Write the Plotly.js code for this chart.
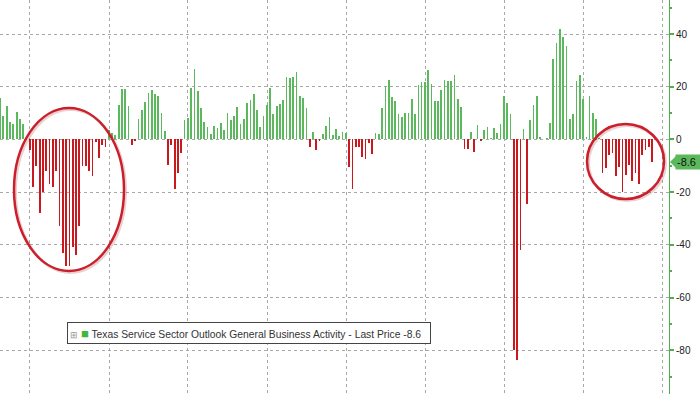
<!DOCTYPE html>
<html>
<head>
<meta charset="utf-8">
<script src="https://cdn.plot.ly/plotly-3.0.1.min.js"></script>
<style>html,body{margin:0;padding:0;background:#fff;}#chart{width:700px;height:394px;}</style>
</head>
<body>
<div id="chart"></div>
<script>
// Monthly values (Texas Service Sector Outlook, General Business Activity)
const startYear = 2007, startMonth = 3; // first bar: March 2007
const v2007 = [15.6, 8.9, 12.7, 6.5, 5.8, 10.3, 7.9, 5.8, 0.4, -4.2];
const v2008 = [-18, -10, -28, -20, -12, -17, -18, -12, -33, -43, -48, -48];
const v2009 = [-41, -44, -33, -10, -10, -12, -14, -1, -7, -2, -3, 3.6];
const v2010 = [2.6, 1.7, 13, 19, 19, 12.5, -2, -0.5, 7.6, 11, 14.3, 17.8];
const v2011 = [18.9, 17.3, 16.5, 10, 3.3, -9.8, -2, -19, -12.8, -5, 7.4, 8];
const v2012 = [19.4, 26.8, 18.4, 11.8, 6.5, 4.9, 2.1, 5.2, 4.4, 6.1, 3.6, 9.9];
const v2013 = [7.4, 9, 12.2, 5.8, 7.6, 13.8, 14.8, 17.3, 11.1, 4.9, 8.7, 13.1];
const v2014 = [19.4, 9.6, 12.6, 13.5, 15, 23.5, 23.2, 23.6, 25.5, 16.6, 15.6, 11.8];
const v2015 = [-2.7, 3, -4.2, -0.6, 2.1, 5, 8.5, 1.7, 3.8, 1.3, 3, 2.3];
const v2016 = [-10.3, -18.8, -3, -2.7, -6.5, -7.4, -1.5, -5.7, 2.3, 2, 12.1, 20.2];
const v2017 = [22.6, 16, 14.7, 9.6, 8.6, 9.9, 10.2, 15.5, 9.5, 20.8, 21.8, 21.8];
const v2018 = [26.2, 21, 14.4, 14.4, 18.8, 22.4, 22, 22, 24.5, 15.4, 12.2, -3.7];
const v2019 = [-3.7, 3, -4.6, 5.5, -0.5, 3.5, 4.7, 0.5, 4.2, 2.3, 5.8, 16.5];
const v2020 = [14, 9.6, -79.9, -83.7, -42, 3.9, -24.5, 7.4, 13.1, 16.5, 0.8, 0.3];
const v2021 = [0.5, 6.4, 30.4, 36.4, 42, 39, 35.5, 7.7, 9.7, 22.3, 24.3, 15.5];
const v2022 = [0.8, 16.5, 9.9, 7.7, 0.4, -12.7, -11, -5.9, -5.2, -14, -10.6, -20];
const v2023 = [-13.5, -9.7, -15.7, -12.8, -17.1, -5.9, -4.2, -2.7, -8.6];

const yTicks = [-80, -60, -40, -20, 0, 20, 40];
const yTickText = ['-80', '-60', '-40', '-20', '0', '20', '40'];
const seriesName = 'Texas Service Sector Outlook General Business Activity - Last Price';
const lastPrice = -8.6;

const values = [].concat(v2007, v2008, v2009, v2010, v2011, v2012, v2013, v2014,
  v2015, v2016, v2017, v2018, v2019, v2020, v2021, v2022, v2023);
const dates = values.map((v, i) => {
  const mi = startMonth - 1 + i;
  const y = startYear + Math.floor(mi / 12), m = mi % 12;
  return new Date(Date.UTC(y, m + 1, 0)).toISOString().slice(0, 10);
});
const GREEN = '#5cb85c', RED = '#c9191e';
const colors = values.map(v => v >= 0 ? GREEN : RED);

const W = 700, H = 394, PW = 669;
const px = x => x / PW;
const py = y => (H - y) / H;

const trace = {
  type: 'bar', x: dates, y: values,
  width: 16 * 864e5,
  marker: {color: colors, line: {width: 0}},
  hoverinfo: 'x+y'
};

function ellipse(x0, y0, x1, y1, color, w, dx, dy) {
  return {type: 'circle', xref: 'paper', yref: 'paper',
    x0: px(x0 + dx), x1: px(x1 + dx), y0: py(y1 + dy), y1: py(y0 + dy),
    line: {color: color, width: w}, layer: 'above'};
}

const layout = {
  width: W, height: H,
  margin: {l: 0, r: W - PW, t: 0, b: 0, autoexpand: false},
  paper_bgcolor: '#ffffff', plot_bgcolor: '#ffffff',
  showlegend: false,
  bargap: 0,
  xaxis: {type: 'date', range: ['2007-03-30', '2024-03-05'],
    tick0: '2008-01-01', dtick: 'M24',
    showgrid: true, gridcolor: '#a8a8a8', griddash: 'dot', gridwidth: 1,
    showticklabels: false, ticks: '', zeroline: false, showline: false, fixedrange: true},
  yaxis: {side: 'right', range: [-96.6, 52.9],
    tickvals: yTicks, ticktext: yTickText,
    showgrid: true, gridcolor: '#a8a8a8', griddash: 'dot', gridwidth: 1,
    zeroline: false, showline: true, linecolor: '#4caf50', linewidth: 1,
    ticks: 'outside', ticklen: 4, tickcolor: '#4caf50', tickwidth: 2,
    minor: {dtick: 10, tick0: 0, ticks: 'outside', ticklen: 2, tickcolor: '#4caf50', showgrid: false},
    tickfont: {family: 'Liberation Sans, Arial, sans-serif', size: 10, color: '#222'},
    automargin: false, fixedrange: true},
  shapes: [
    ellipse(14, 108, 124, 271, 'rgba(120,0,0,0.18)', 3, 1.5, 1.5),
    ellipse(14, 108, 124, 271, '#cc1f2b', 2.5, 0, 0),
    ellipse(587, 124, 664, 199, 'rgba(120,0,0,0.18)', 3, 1.5, 1.5),
    ellipse(587, 124, 664, 199, '#cc1f2b', 2.5, 0, 0),
    {type: 'path', xref: 'paper', xsizemode: 'pixel', xanchor: 1,
      yref: 'y', ysizemode: 'pixel', yanchor: lastPrice,
      path: 'M 1,0 L 7,6 L 7,-6 Z', fillcolor: GREEN, line: {width: 0}}
  ],
  annotations: [
    {xref: 'paper', yref: 'y', x: 1, y: lastPrice, xanchor: 'left', yanchor: 'middle',
      xshift: 6, showarrow: false, text: String(lastPrice),
      bgcolor: GREEN, borderpad: 1, width: 28, align: 'left',
      font: {family: 'Liberation Sans, Arial, sans-serif', size: 11, color: '#111'}},
    {xref: 'paper', yref: 'paper', x: px(67), y: py(333), xanchor: 'left', yanchor: 'middle',
      showarrow: false, align: 'left', width: 358, height: 16,
      bgcolor: '#ffffff', bordercolor: '#444', borderwidth: 1, borderpad: 2,
      text: '<span style="color:#999;font-size:9px">⊞</span> <span style="color:#3cb93c;font-size:13px">■</span> ' + seriesName + ' ' + lastPrice,
      font: {family: 'Liberation Sans, Arial, sans-serif', size: 10.3, color: '#333'}}
  ]
};

Plotly.newPlot('chart', [trace], layout, {displayModeBar: false, staticPlot: true});
</script>
</body>
</html>
